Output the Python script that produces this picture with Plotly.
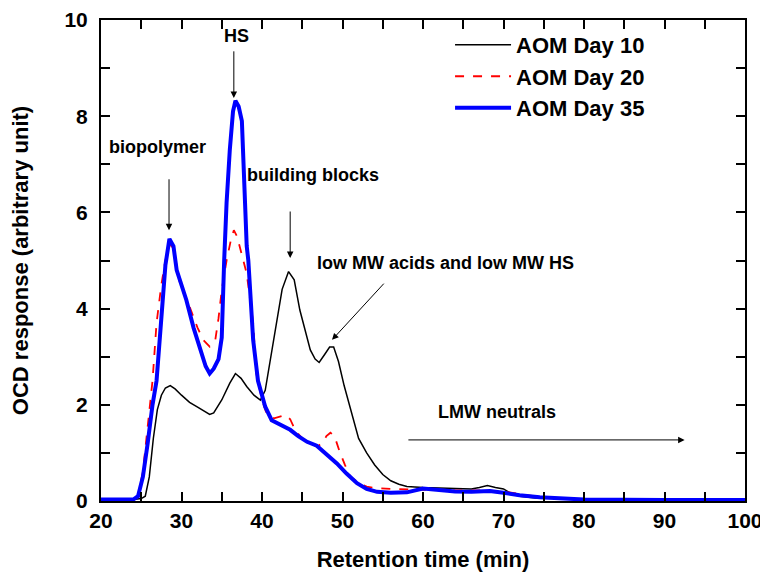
import plotly.graph_objects as go

# Retention time (min) and OCD response for each sample
day10_t = [20, 22, 24, 25, 25.5, 26, 26.5, 27, 27.5, 28, 28.6, 29.2, 30, 31, 32, 33, 33.5, 34, 35, 36, 36.7,
           37.4, 38.1, 39, 39.8, 40.4, 41, 41.8, 42.5, 43.3, 44, 44.7, 45.4, 46, 46.6, 47.1, 47.8, 48.4, 48.9,
           49.5, 50.2, 50.9, 52, 53, 54, 55, 56, 57, 58, 60, 62, 64, 66, 67, 68, 69, 70, 71, 72, 74, 76, 80, 85, 87,
           88, 95, 100]
day10_y = [0.03, 0.02, 0.03, 0.05, 0.1, 0.5, 1.3, 1.9, 2.2, 2.35, 2.4, 2.33, 2.2, 2.05, 1.95, 1.85, 1.8, 1.83,
           2.1, 2.45, 2.65, 2.55, 2.38, 2.2, 2.1, 2.3, 2.9, 3.7, 4.4, 4.77, 4.6, 3.97, 3.5, 3.14, 2.95, 2.88,
           3.05, 3.2, 3.2, 2.9, 2.4, 1.96, 1.3, 1.0, 0.75, 0.55, 0.42, 0.35, 0.3, 0.28, 0.27, 0.25, 0.25, 0.28,
           0.32, 0.28, 0.25, 0.15, 0.1, 0.06, 0.05, 0.04, 0.03, 0.02, 0.01, 0.01, 0.01]

day20_t = [20, 22, 24, 24.6, 25.2, 25.8, 26.4, 26.9, 27.5, 28, 28.5, 29, 29.8, 31, 32, 32.7, 33.5, 34.2, 34.6,
           35, 35.6, 36.1, 36.5, 36.9, 37.7, 38.1, 38.9, 39.3, 40, 40.6, 41.5, 42.3, 42.9, 43.5, 44.2, 45, 46,
           46.8, 47.5, 48, 48.5, 49, 49.6, 50.3, 51, 52, 53, 54, 56, 58, 60, 62, 64, 66, 68, 70, 72, 74.5, 78,
           80, 90, 100]
day20_y = [0.03, 0.02, 0.03, 0.12, 0.6, 1.5, 2.5, 3.7, 4.5, 5.0, 5.35, 5.25, 4.53, 4.04, 3.6, 3.35, 3.21,
           3.35, 3.8, 4.39, 5.0, 5.4, 5.63, 5.5, 5.0, 4.73, 3.7, 2.65, 2.1, 1.8, 1.72, 1.76, 1.79, 1.7, 1.45,
           1.3, 1.2, 1.13, 1.2, 1.35, 1.42, 1.35, 1.05, 0.75, 0.5, 0.38, 0.3, 0.27, 0.25, 0.24, 0.24, 0.22,
           0.22, 0.22, 0.22, 0.2, 0.15, 0.08, 0.04, 0.03, 0.02, 0.02]

day35_t = [20, 22, 24, 24.6, 25.2, 25.8, 26.4, 26.9, 27.5, 28, 28.5, 29, 29.4, 30, 30.6, 31.5, 32.3, 33,
           33.5, 34, 34.6, 35, 35.3, 35.6, 36, 36.4, 36.7, 37.1, 37.5, 38.1, 38.3, 38.6, 38.9, 39.5, 40.4,
           41.2, 42.2, 43.5, 44.5, 45.6, 46.8, 48, 49.3, 50.5, 51.8, 53, 54.3, 56, 58, 60, 62, 64, 66, 68.3,
           70, 72, 74.5, 77.8, 80, 90, 100]
day35_y = [0.03, 0.02, 0.03, 0.1, 0.5, 1.2, 2.0, 2.5, 3.8, 4.9, 5.45, 5.3, 4.8, 4.5, 4.18, 3.6, 3.14, 2.8,
           2.65, 2.75, 2.95, 3.4, 5.0, 6.2, 7.3, 8.1, 8.32, 8.2, 7.9, 5.3, 5.0, 4.0, 3.35, 2.5, 1.96, 1.68,
           1.6, 1.48, 1.35, 1.23, 1.15, 0.98, 0.78, 0.57, 0.37, 0.25, 0.19, 0.17, 0.18, 0.26, 0.22, 0.2,
           0.19, 0.21, 0.17, 0.12, 0.08, 0.04, 0.03, 0.02, 0.02]

series_names = ["AOM Day 10", "AOM Day 20", "AOM Day 35"]

FONT = "Liberation Sans, Arial, sans-serif"

fig = go.Figure()
fig.add_trace(go.Scatter(x=day10_t, y=day10_y, mode="lines", name=series_names[0],
                         line=dict(color="black", width=1.5)))
fig.add_trace(go.Scatter(x=day20_t, y=day20_y, mode="lines", name=series_names[1],
                         line=dict(color="red", width=1.8, dash="dash")))
fig.add_trace(go.Scatter(x=day35_t, y=day35_y, mode="lines", name=series_names[2],
                         line=dict(color="#0000ff", width=4)))

axis_common = dict(
    showgrid=False, zeroline=False, showline=True, linecolor="black", linewidth=2,
    mirror="ticks", ticks="inside", ticklen=9, tickwidth=1.5, tickcolor="black",
    automargin=False,
    tickfont=dict(family=FONT, size=21, color="black", weight="bold"),
)

fig.update_xaxes(range=[20, 100], dtick=10, tick0=20,
                 minor=dict(dtick=5, ticks="inside", ticklen=9, tickwidth=1.5, tickcolor="black"),
                 title=dict(text="Retention time (min)", standoff=20,
                            font=dict(family=FONT, size=22, color="black", weight="bold")),
                 **axis_common)
fig.update_yaxes(range=[0, 10], dtick=2, tick0=0, ticklabelstandoff=7,
                 minor=dict(dtick=1, ticks="inside", ticklen=9, tickwidth=1.5, tickcolor="black"),
                 title=dict(text="OCD response (arbitrary unit)", standoff=32,
                            font=dict(family=FONT, size=22, color="black", weight="bold")),
                 **axis_common)

ann_font = dict(family=FONT, size=18, color="black", weight="bold")
labels = [
    ("HS", 36.85, 9.66),
    ("biopolymer", 26.96, 7.36),
    ("building blocks", 46.3, 6.78),
    ("low MW acids and low MW HS", 62.8, 4.95),
    ("LMW neutrals", 69.2, 1.85),
]
for text, x, y in labels:
    fig.add_annotation(x=x, y=y, text=text, showarrow=False, font=ann_font, xref="x", yref="y")

arrows = [  # (head x, head y, tail x, tail y)
    (36.5, 8.38, 36.5, 9.38),
    (28.45, 5.63, 28.45, 6.72),
    (43.5, 5.05, 43.5, 6.05),
    (48.7, 3.35, 55.3, 4.55),
    (92.5, 1.27, 58.0, 1.27),
]
for hx, hy, tx, ty in arrows:
    fig.add_annotation(x=hx, y=hy, ax=tx, ay=ty, xref="x", yref="y", axref="x", ayref="y",
                       text="", showarrow=True, arrowhead=2, arrowsize=1.3, arrowwidth=1,
                       arrowcolor="black")

# page body adds an 8 px offset; size the figure so the plot area lands where the reference has it
fig.update_layout(
    width=760, height=572,
    margin=dict(l=93, r=23, t=12, b=79),
    plot_bgcolor="white", paper_bgcolor="white",
    legend=dict(x=0.542, y=0.992, xanchor="left", yanchor="top", bgcolor="rgba(0,0,0,0)",
                itemwidth=56, traceorder="normal",
                font=dict(family=FONT, size=22, color="black", weight="bold")),
)

fig.write_html("out.html")
